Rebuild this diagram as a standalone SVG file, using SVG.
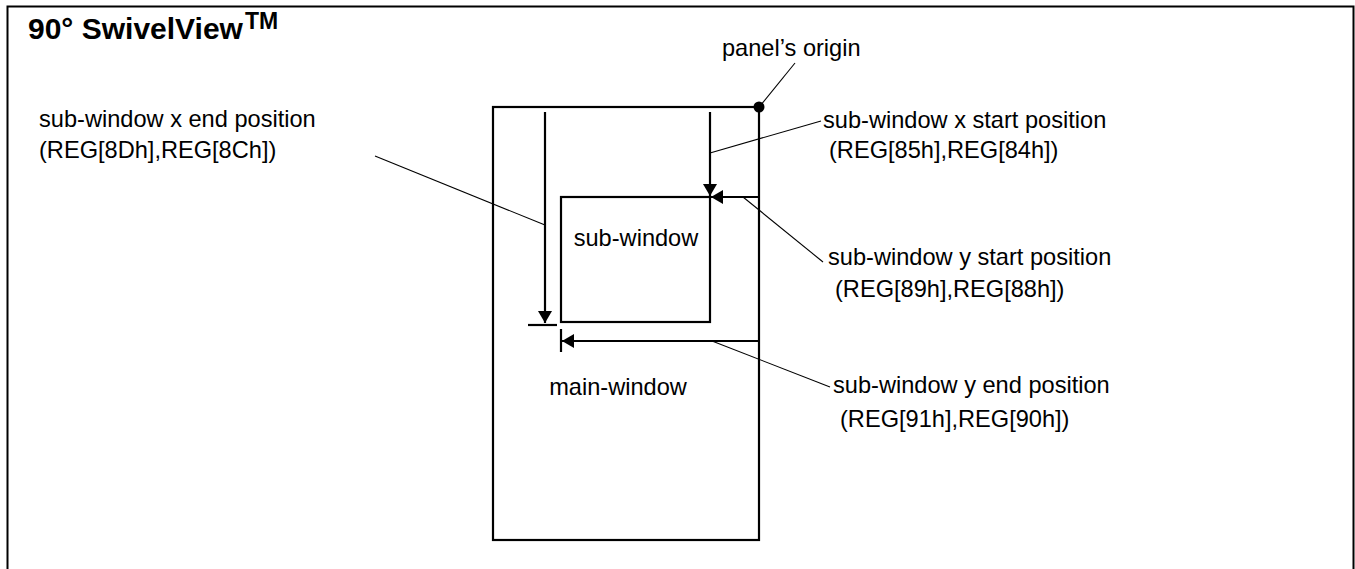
<svg xmlns="http://www.w3.org/2000/svg" width="1355" height="569" viewBox="0 0 1355 569">
<style>
text{font-family:"Liberation Sans",Arial,sans-serif;fill:#000}
.lbl{font-size:23.6px}
.title{font-weight:bold}
.box{fill:none;stroke:#000;stroke-width:2.2}
.arr{stroke:#000;stroke-width:2.2;fill:none}
.lead{stroke:#000;stroke-width:1.1;fill:none}
</style>
<defs>
<marker id="ah" viewBox="0 0 12 14" refX="12" refY="7" markerWidth="12" markerHeight="14" markerUnits="userSpaceOnUse" orient="auto">
<path d="M0,0 L12,7 L0,14 Z" fill="#000"/>
</marker>
</defs>
<rect x="0" y="0" width="1355" height="569" fill="#fff"/>
<path d="M7.5,590 V6.5 H1353.5 V590" fill="none" stroke="#000" stroke-width="2"/>
<g id="title">
<text class="title" x="28" y="39" font-size="30">90° SwivelView</text>
<text class="title" x="245" y="29" font-size="23">TM</text>
</g>
<g id="main-window">
<rect class="box" x="493" y="107" width="266" height="433"/>
<text class="lbl" x="618" y="395" text-anchor="middle">main-window</text>
</g>
<g id="sub-window">
<rect class="box" x="561" y="197" width="149" height="125"/>
<text class="lbl" x="636" y="246" text-anchor="middle">sub-window</text>
</g>
<g id="panel-origin">
<circle cx="759" cy="107" r="5.5" fill="#000"/>
<text class="lbl" x="722" y="56">panel’s origin</text>
</g>
<g id="label-x-start">
<text class="lbl" x="823" y="128">sub-window x start position</text>
<text class="lbl" x="829" y="158">(REG[85h],REG[84h])</text>
</g>
<g id="label-y-start">
<text class="lbl" x="828" y="265">sub-window y start position</text>
<text class="lbl" x="835" y="297">(REG[89h],REG[88h])</text>
</g>
<g id="label-y-end">
<text class="lbl" x="833" y="393">sub-window y end position</text>
<text class="lbl" x="840" y="427">(REG[91h],REG[90h])</text>
</g>
<g id="label-x-end">
<text class="lbl" x="39" y="127">sub-window x end position</text>
<text class="lbl" x="39" y="158">(REG[8Dh],REG[8Ch])</text>
</g>
<g id="connectors">
<line class="arr" x1="545" y1="112" x2="545" y2="323" marker-end="url(#ah)"/>
<line class="arr" x1="528" y1="325" x2="557" y2="325"/>
<line class="arr" x1="710" y1="112" x2="710" y2="196" marker-end="url(#ah)"/>
<line class="arr" x1="759" y1="197" x2="711" y2="197" marker-end="url(#ah)"/>
<line class="arr" x1="759" y1="341" x2="562" y2="341" marker-end="url(#ah)"/>
<line class="arr" x1="561" y1="329" x2="561" y2="352"/>
<line class="lead" x1="760" y1="106" x2="795" y2="63"/>
<line class="lead" x1="710" y1="153" x2="821" y2="121"/>
<line class="lead" x1="743" y1="197" x2="823" y2="262"/>
<line class="lead" x1="712" y1="341" x2="830" y2="387"/>
<line class="lead" x1="545" y1="225" x2="375" y2="156"/>
</g>
</svg>
